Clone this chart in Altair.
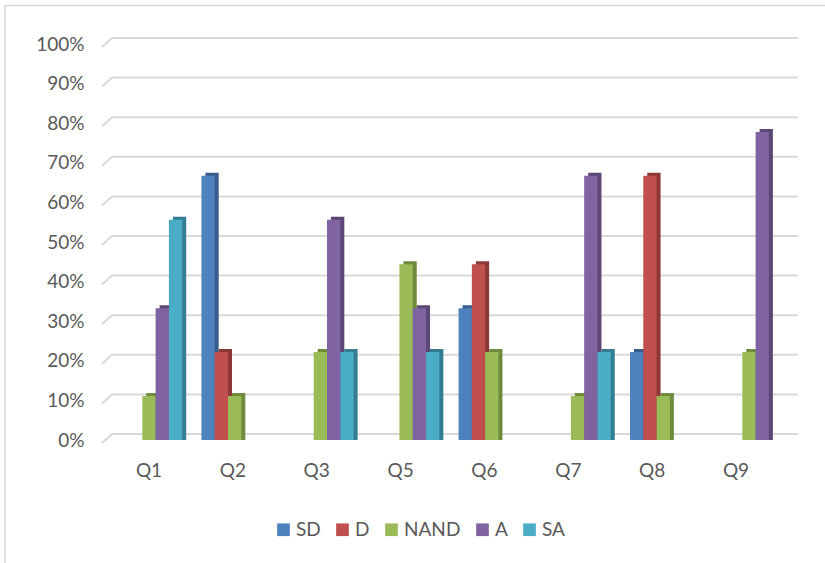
import altair as alt
import pandas as pd

# ---- data ----
questions = ["Q1", "Q2", "Q3", "Q5", "Q6", "Q7", "Q8", "Q9"]
series = ["SD", "D", "NAND", "A", "SA"]
sd_vals   = [0.0,   0.667, 0.0,   0.0,   0.333, 0.0,   0.222, 0.0]
d_vals    = [0.0,   0.222, 0.0,   0.0,   0.444, 0.0,   0.667, 0.0]
nand_vals = [0.111, 0.111, 0.222, 0.444, 0.222, 0.111, 0.111, 0.222]
a_vals    = [0.333, 0.0,   0.556, 0.333, 0.0,   0.667, 0.0,   0.778]
sa_vals   = [0.556, 0.0,   0.222, 0.222, 0.0,   0.222, 0.0,   0.0]
tick_values = [0.0, 0.1, 0.2, 0.3, 0.4, 0.5, 0.6, 0.7, 0.8, 0.9, 1.0]

front_colors = ["#4F81BD", "#C0504D", "#9BBB59", "#8064A2", "#4BACC6"]
side_colors = ["#385D8A", "#8C3836", "#6E8A3C", "#5C4776", "#327D92"]

all_vals = [sd_vals, d_vals, nand_vals, a_vals, sa_vals]
rows = []
for s, vals in zip(series, all_vals):
    for q, v in zip(questions, vals):
        if v > 0:
            rows.append({"q": q, "s": s, "value": v})
df = pd.DataFrame(rows)
grid_df = pd.DataFrame({"v": tick_values})
border_df = pd.DataFrame({"k": [0]})
label_df = pd.DataFrame({"q": questions})

FONT = "Lato"
TEXT = "#595959"
GRID = "#D9D9D9"
W, H = 700, 396
LEFT, TOP = 102, 44

yscale = alt.Scale(domain=[0, 1], nice=False, zero=True)
yaxis = alt.Axis(
    title=None, format=".0%", values=tick_values, grid=False, domain=False,
    ticks=False, labelPadding=18, labelFont=FONT, labelFontSize=19,
    labelColor=TEXT,
)

xbars = alt.X(
    "q:N", sort=questions,
    scale=alt.Scale(type="band", domain=questions, range=[4.1, 689.8],
                    paddingInner=0.2241, paddingOuter=0.112),
    axis=None,
)

border = alt.Chart(border_df).mark_rect(
    fill=None, fillOpacity=0, stroke=GRID, strokeWidth=1.5
).encode(
    x=alt.value(-97), x2=alt.value(740), y=alt.value(-38.5), y2=alt.value(600)
)

grid_h = alt.Chart(grid_df).mark_rule(
    color=GRID, strokeWidth=2, yOffset=-6
).encode(
    y=alt.Y("v:Q", scale=yscale, axis=yaxis),
    x=alt.value(10), x2=alt.value(696),
)

grid_s = alt.Chart(grid_df).mark_rule(
    color=GRID, strokeWidth=2, yOffset=3, y2Offset=-6
).encode(
    y=alt.Y("v:Q", scale=yscale, axis=yaxis),
    y2=alt.Y2("v:Q"),
    x=alt.value(0), x2=alt.value(10),
)

side = alt.Chart(df).mark_bar(yOffset=-3, y2Offset=-3).encode(
    x=xbars,
    xOffset=alt.XOffset("s:N", sort=series,
                        scale=alt.Scale(domain=series, range=[4, 70.5],
                                        paddingInner=0, paddingOuter=0)),
    y=alt.Y("value:Q", scale=yscale, axis=yaxis, stack=None),
    color=alt.Color("s:N", scale=alt.Scale(domain=series, range=side_colors),
                    legend=None),
)

front = alt.Chart(df).mark_bar().encode(
    x=xbars,
    xOffset=alt.XOffset("s:N", sort=series,
                        scale=alt.Scale(domain=series, range=[0, 66.5],
                                        paddingInner=0, paddingOuter=0)),
    y=alt.Y("value:Q", scale=yscale, axis=yaxis, stack=None),
    color=alt.Color(
        "s:N", sort=series,
        scale=alt.Scale(domain=series, range=front_colors),
        legend=alt.Legend(
            title=None, orient="none", legendX=172, legendY=476,
            direction="horizontal", symbolType="square", symbolSize=161,
            symbolStrokeWidth=0, labelFont=FONT, labelFontSize=19,
            labelColor=TEXT, labelOffset=3, columnPadding=12, padding=0,
        ),
    ),
)

xlabels = alt.Chart(label_df).mark_point(opacity=0).encode(
    x=alt.X(
        "q:N", sort=questions,
        scale=alt.Scale(type="band", domain=questions, range=[5.07, 675.95],
                        paddingInner=0, paddingOuter=0),
        axis=alt.Axis(title=None, domain=False, ticks=False, grid=False,
                      labelPadding=21, labelAngle=0, labelFont=FONT,
                      labelFontSize=19, labelColor=TEXT),
    ),
)

chart = alt.layer(border, grid_h, grid_s, side, front, xlabels).resolve_scale(
    x="independent", xOffset="independent", color="independent"
).properties(
    width=W, height=H,
    autosize=alt.AutoSizeParams(type="none"),
    padding={"left": LEFT, "top": TOP, "right": 825 - LEFT - W, "bottom": 563 - TOP - H},
    background="white",
).configure_view(stroke=None)

chart.save("out.html", embed_options={"renderer": "svg", "actions": False})
